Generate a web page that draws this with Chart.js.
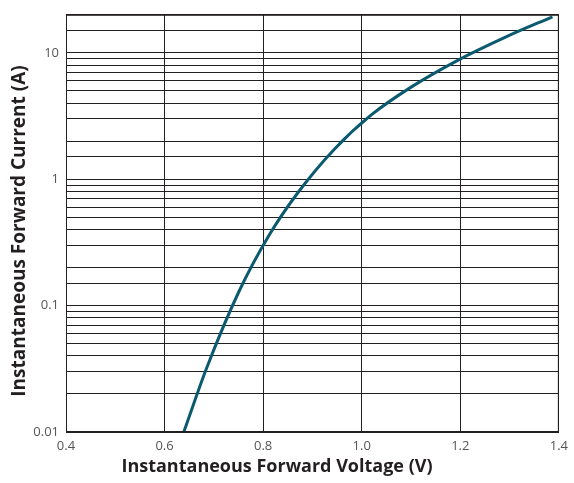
<!DOCTYPE html>
<html>
<head>
<meta charset="utf-8">
<script src="https://cdn.jsdelivr.net/npm/chart.js@4/dist/chart.umd.min.js"></script>
<style>
  html, body { margin: 0; padding: 0; background: #fff; }
  #wrap { width: 574px; height: 483px; }
</style>
</head>
<body>
<div id="wrap"><canvas id="ivChart"></canvas></div>
<script>
  // forward voltage (V) vs forward current (A)
  const voltage = [0.639, 0.685, 0.750, 0.812, 0.870, 0.944, 1.020, 1.101, 1.191, 1.295, 1.387];
  const current = [0.01, 0.0318, 0.127, 0.360, 0.778, 1.72, 3.24, 5.38, 8.57, 13.5, 19.3];
  const xTicks = [0.4, 0.6, 0.8, 1.0, 1.2, 1.4];
  const yLabels = [0.01, 0.1, 1, 10];
  const xTitle = 'Instantaneous Forward Voltage (V)';
  const yTitle = 'Instantaneous Forward Current (A)';

  const ink = '#231f20';
  const font = "'Open Sans', 'Noto Sans', sans-serif";

  new Chart(document.getElementById('ivChart'), {
    type: 'line',
    data: {
      datasets: [{
        data: voltage.map((v, i) => ({ x: v, y: current[i] })),
        borderColor: '#0b5a70',
        borderWidth: 3,
        pointRadius: 0,
        cubicInterpolationMode: 'monotone',
        fill: false
      }]
    },
    options: {
      responsive: true,
      maintainAspectRatio: false,
      animation: false,
      layout: { padding: { left: 0, right: 10, top: 14, bottom: 0 } },
      plugins: { legend: { display: false }, tooltip: { enabled: false } },
      scales: {
        x: {
          type: 'linear',
          min: 0.4, max: 1.4,
          afterBuildTicks: (s) => { s.ticks = xTicks.map((v) => ({ value: v })); },
          afterFit: (s) => { s.height = 51; },
          grid: { color: ink, lineWidth: 1, drawTicks: false },
          border: { color: ink, width: 1 },
          ticks: {
            padding: 6,
            color: '#555',
            font: { family: font, size: 13 },
            callback: (v) => v.toFixed(1)
          }
        },
        y: {
          type: 'logarithmic',
          min: 0.01, max: 20,
          afterFit: (s) => { s.width = 66; },
          grid: { color: ink, lineWidth: 1, drawTicks: false },
          border: { color: ink, width: 1 },
          ticks: {
            padding: 7,
            color: '#555',
            font: { family: font, size: 13 },
            autoSkip: false,
            callback: (v) => (yLabels.some((l) => Math.abs(l - v) < l * 1e-6) ? String(v) : '')
          }
        }
      }
    },
    plugins: [{
      id: 'frameAndTitles',
      afterDraw(chart) {
        const { ctx, chartArea: a } = chart;
        ctx.save();
        ctx.strokeStyle = ink;
        ctx.lineWidth = 1;
        ctx.strokeRect(a.left + 0.5, a.top + 0.5, a.right - a.left - 1, a.bottom - a.top - 1);

        ctx.fillStyle = ink;
        ctx.textAlign = 'center';
        ctx.textBaseline = 'middle';
        ctx.font = `bold 18px ${font}`;
        ctx.fillText(xTitle, 277, 467);

        ctx.translate(20, 231);
        ctx.rotate(-Math.PI / 2);
        ctx.font = `bold 19px ${font}`;
        ctx.fillText(yTitle, 0, 0);
        ctx.restore();
      }
    }]
  });
</script>
</body>
</html>
